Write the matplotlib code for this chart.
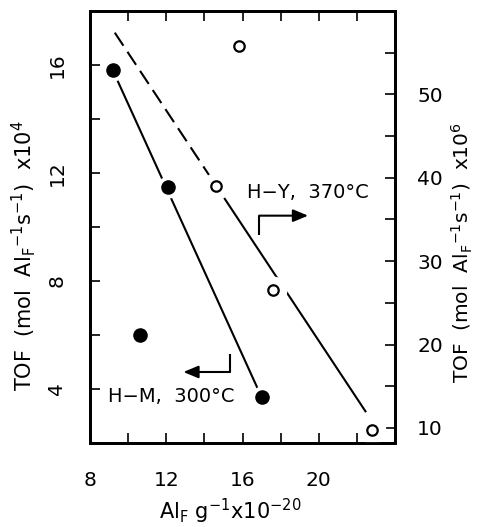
import matplotlib
matplotlib.use("Agg")
import matplotlib.pyplot as plt

plt.rcParams['font.family'] = ['DejaVu Sans']
plt.rcParams['mathtext.default'] = 'regular'

# ---- data ----
hm_x = [9.2, 12.1, 10.6, 17.0]          # Al_F g^-1 x1e-20 (H-M, filled)
hm_tof = [15.8, 11.5, 6.0, 3.7]         # TOF x1e4 (left axis)
hm_fit_x = [9.2, 17.0]
hm_fit_y = [15.8, 3.7]

hy_x = [15.8, 14.6, 17.6, 22.8]         # H-Y, open
hy_tof = [55.8, 39.0, 26.5, 9.8]        # TOF x1e6 (right axis)
hy_fit_dash_x = [9.3, 14.6]
hy_fit_dash_y = [57.4, 39.1]
hy_fit_solid_x = [14.6, 22.45]
hy_fit_solid_y = [39.1, 12.0]

x_ticks = [8, 10, 12, 14, 16, 18, 20, 22]
x_ticklabels = ['8', '', '12', '', '16', '', '20', '']
yl_ticks = [4, 6, 8, 10, 12, 14, 16]
yl_ticklabels = ['4', '', '8', '', '12', '', '16']
yr_ticks = [10, 15, 20, 25, 30, 35, 40, 45, 50, 55]
yr_ticklabels = ['10', '', '20', '', '30', '', '40', '', '50', '']

W, H = 478, 527
fig = plt.figure(figsize=(W / 100, H / 100), dpi=100)
ax = fig.add_axes([90 / W, (H - 443) / H, 305 / W, 432 / H])
ax2 = ax.twinx()

ax.set_xlim(8, 24)
ax.set_ylim(2, 18)
ax2.set_ylim(8.2, 60)

# H-M series (left axis)
ax.plot(hm_fit_x, hm_fit_y, color='black', lw=1.5, zorder=2, solid_capstyle='butt')
ax.plot(hm_x, hm_tof, 'o', color='white', ms=16, mew=0, zorder=3)
ax.plot(hm_x, hm_tof, 'o', color='black', ms=10.5, mew=0, zorder=4)

# H-Y series (right axis)
ax2.plot(hy_fit_dash_x, hy_fit_dash_y, color='black', lw=1.5,
         linestyle=(0, (7.5, 3.5)), zorder=2)
ax2.plot(hy_fit_solid_x, hy_fit_solid_y, color='black', lw=1.5, zorder=2)
ax2.plot(hy_x, hy_tof, 'o', color='white', ms=20, mew=0, zorder=3)
ax2.plot(hy_x, hy_tof, 'o', mfc='white', mec='black', ms=7.5, mew=1.6, zorder=4)

# ticks
ax.set_xticks(x_ticks)
ax.set_xticklabels(x_ticklabels)
ax.set_yticks(yl_ticks)
ax.set_yticklabels(yl_ticklabels)
ax2.set_yticks(yr_ticks)
ax2.set_yticklabels(yr_ticklabels)

ax.tick_params(axis='x', direction='in', length=7, width=1.2, top=True,
               labelsize=14.5, pad=20)
ax.tick_params(axis='y', direction='in', length=7, width=1.2, right=False,
               labelsize=14.5, pad=17)
ax2.tick_params(axis='y', direction='in', length=7, width=1.2,
                labelsize=14.5, pad=16)
for lab in ax.get_yticklabels():
    lab.set_rotation(90)
    lab.set_va('center')

for a in (ax, ax2):
    for s in a.spines.values():
        s.set_linewidth(2.0)
        s.set_zorder(10)

# annotations
ax.text(8.94, 3.72, 'H\u2212M,  300\u00b0C', fontsize=14, ha='left', va='center')
ax.text(16.22, 11.27, 'H\u2212Y,  370\u00b0C', fontsize=14, ha='left', va='center')

arrow_kw = dict(arrowstyle='-|>,head_length=0.6,head_width=0.25', color='black',
                lw=1.5, shrinkA=0, shrinkB=0, mutation_scale=15)
ax.plot([15.35, 15.35], [5.29, 4.63], color='black', lw=1.5, solid_capstyle='butt')
ax.annotate('', xy=(12.9, 4.63), xytext=(15.35, 4.63), arrowprops=arrow_kw)
ax.plot([16.87, 16.87], [9.72, 10.42], color='black', lw=1.5, solid_capstyle='butt')
ax.annotate('', xy=(19.44, 10.42), xytext=(16.87, 10.42), arrowprops=arrow_kw)

# axis labels
fig.text(24 / W, (H - 256) / H, r'TOF  (mol  Al$_F$$^{-1}$s$^{-1}$)  x10$^4$',
         rotation=90, ha='center', va='center', fontsize=15)
fig.text(462 / W, (H - 253) / H, r'TOF  (mol  Al$_F$$^{-1}$s$^{-1}$)  x10$^6$',
         rotation=90, ha='center', va='center', fontsize=14.5)
fig.text(230 / W, (H - 511) / H, r'Al$_F$ g$^{-1}$x10$^{-20}$',
         ha='center', va='center', fontsize=15)

fig.savefig('out.png', dpi=100)
